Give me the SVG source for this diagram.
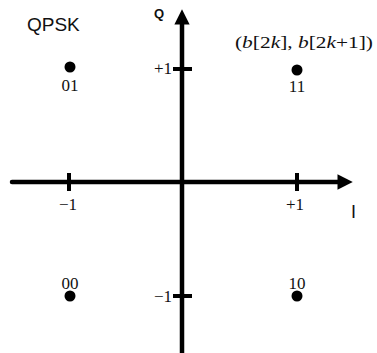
<svg xmlns="http://www.w3.org/2000/svg" width="377" height="353" viewBox="0 0 377 353">
<style>
.ax{stroke:#000;stroke-width:4.5;fill:none;stroke-linecap:round}
.tk{stroke:#000;stroke-width:4;fill:none}
.sans{font-family:"Liberation Sans",Arial,sans-serif;fill:#111}
.serif{font-family:"Liberation Serif","Times New Roman",serif;fill:#111;font-size:17px}
.dot{fill:#000}
</style>
<defs>
<marker id="arr" viewBox="0 0 10 10" refX="1" refY="5" markerWidth="3.6" markerHeight="3.4" orient="auto" markerUnits="strokeWidth">
<path d="M0,0 L10,5 L0,10 Z" fill="#000"/>
</marker>
</defs>
<rect width="377" height="353" fill="#fff"/>
<g id="connectors">
<line class="ax" x1="12" y1="182" x2="339" y2="182" marker-end="url(#arr)"/>
<line class="ax" x1="182" y1="353" x2="182" y2="23" marker-end="url(#arr)"/>
<line class="tk" x1="69" y1="173" x2="69" y2="191"/>
<line class="tk" x1="297" y1="173" x2="297" y2="191"/>
<line class="tk" x1="173" y1="69" x2="192" y2="69"/>
<line class="tk" x1="173" y1="296" x2="192" y2="296"/>
</g>
<g id="labels">
<text class="sans" x="27" y="31" font-size="19">QPSK</text>
<text class="sans" x="154" y="18" font-size="13" font-weight="bold">Q</text>
<text class="sans" x="351" y="218" font-size="18">I</text>
<text class="serif" x="172" y="74" text-anchor="end">+1</text>
<text class="serif" x="172" y="302" text-anchor="end">−1</text>
<text class="serif" x="68" y="210" text-anchor="middle">−1</text>
<text class="serif" x="295" y="210" text-anchor="middle">+1</text>
<text class="serif" x="235" y="48" font-size="19" textLength="138" lengthAdjust="spacingAndGlyphs">(<tspan font-style="italic">b</tspan>[2<tspan font-style="italic">k</tspan>], <tspan font-style="italic">b</tspan>[2<tspan font-style="italic">k</tspan>+1])</text>
</g>
<g id="node-01"><circle class="dot" cx="70" cy="67" r="5.5"/><text class="serif" x="70" y="91" text-anchor="middle">01</text></g>
<g id="node-11"><circle class="dot" cx="297" cy="70" r="5.5"/><text class="serif" x="297" y="92" text-anchor="middle">11</text></g>
<g id="node-00"><circle class="dot" cx="70" cy="296" r="5.5"/><text class="serif" x="70" y="289" text-anchor="middle">00</text></g>
<g id="node-10"><circle class="dot" cx="297" cy="296" r="5.5"/><text class="serif" x="297" y="289" text-anchor="middle">10</text></g>
</svg>
